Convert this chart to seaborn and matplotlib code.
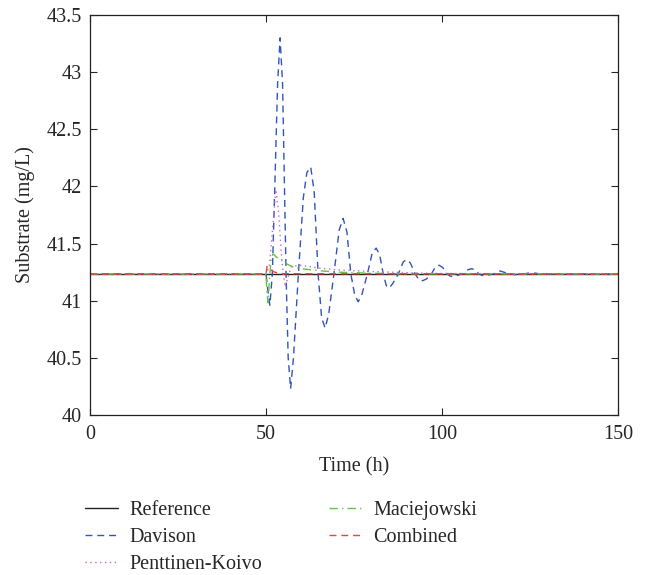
import matplotlib
matplotlib.use("Agg")
import matplotlib.pyplot as plt
import seaborn as sns
import pandas as pd

# ---- data ----
ref_t = [0, 150]
ref_v = [41.234, 41.234]

dav_t = [0, 50.0, 50.5, 51.1, 51.8, 52.5, 53.3, 54.0, 54.7, 55.7, 56.3, 57.0, 57.8,
         59.2, 60.6, 61.6, 62.7, 63.7, 64.8, 65.8, 66.8, 67.8, 69.3, 70.8, 71.9,
         73.0, 74.1, 75.2, 76.2, 77.3, 78.8, 80.2, 81.3, 82.3, 83.3, 84.2, 85.0,
         86.0, 87.6, 89.0, 90.0, 91.0, 92.4, 93.5, 94.5, 95.6, 97.0, 98.2, 99.2,
         100.2, 101.5, 102.3, 103.2, 104.2, 105.8, 107.3, 108.4, 109.4, 110.5,
         111.3, 112.2, 113.2, 114.6, 116.5, 118.5, 120.5, 123.0, 125.5, 128.0, 150]
dav_v = [41.234, 41.234, 41.10, 40.96, 41.234, 42.0, 42.9, 43.30, 42.9, 41.234, 40.5,
         40.23, 40.5, 41.234, 41.9, 42.12, 42.17, 41.95, 41.234, 40.85, 40.76, 40.88,
         41.234, 41.62, 41.72, 41.6, 41.234, 41.05, 40.99, 41.06, 41.234, 41.42,
         41.46, 41.40, 41.234, 41.13, 41.11, 41.15, 41.234, 41.34, 41.36, 41.33,
         41.234, 41.18, 41.175, 41.19, 41.234, 41.30, 41.31, 41.29, 41.234, 41.215,
         41.21, 41.22, 41.234, 41.27, 41.28, 41.27, 41.234, 41.222, 41.22, 41.225,
         41.234, 41.26, 41.24, 41.228, 41.234, 41.245, 41.234, 41.234]

pk_t = [0, 50.0, 50.3, 51.0, 51.8, 52.8, 53.5, 54.5, 55.4, 56.2, 57.2, 60, 65, 70,
        80, 90, 100, 150]
pk_v = [41.234, 41.234, 41.25, 41.32, 41.6, 41.97, 41.8, 41.35, 41.12, 41.2, 41.30,
        41.31, 41.285, 41.27, 41.255, 41.245, 41.238, 41.234]

mac_t = [0, 50.0, 50.3, 50.6, 51.0, 51.5, 52.0, 53, 54, 56, 58, 60, 63, 66, 70, 80,
         90, 150]
mac_v = [41.234, 41.234, 41.05, 40.98, 41.2, 41.38, 41.41, 41.38, 41.36, 41.32,
         41.29, 41.28, 41.27, 41.26, 41.25, 41.24, 41.235, 41.234]

comb_t = [0, 50.0, 50.3, 51.2, 52.0, 53.0, 55.0, 150]
comb_v = [41.234, 41.234, 41.30, 41.28, 41.255, 41.245, 41.236, 41.234]

labels = ["Reference", "Davison", "Penttinen-Koivo", "Maciejowski", "Combined"]
colors = ["#222222", "#3354b8", "#cc66cc", "#66c244", "#ee4040"]
styles = ["-", (0, (5, 3.5)), (0, (1, 2.5)), (0, (6, 3, 1, 3)), (0, (5, 3.5))]

x_ticks = [0, 50, 100, 150]
y_ticks = [40, 40.5, 41, 41.5, 42, 42.5, 43, 43.5]

# ---- plot ----
sns.set_style("ticks")
FS = 14.5
plt.rcParams["font.family"] = ["Liberation Serif", "DejaVu Serif"]
plt.rcParams["font.size"] = FS

fig = plt.figure(figsize=(6.48, 5.75), dpi=100)
ax = fig.add_axes([0.1389, 0.2783, 0.8148, 0.6957])

series = [(ref_t, ref_v), (dav_t, dav_v), (pk_t, pk_v), (mac_t, mac_v), (comb_t, comb_v)]
for (t, v), lab, col, ls in zip(series, labels, colors, styles):
    df = pd.DataFrame({"t": t, "v": v})
    sns.lineplot(data=df, x="t", y="v", ax=ax, color=col, linestyle=ls,
                 linewidth=1.0, label=lab, legend=False, sort=False)

ax.set_xlim(0, 150)
ax.set_ylim(40, 43.5)
ax.set_xticks(x_ticks)
ax.set_xticklabels([str(x) for x in x_ticks])
ax.set_yticks(y_ticks)
ax.set_yticklabels([f"{y:g}" for y in y_ticks])
ax.tick_params(direction="in", top=True, right=True, length=5, width=0.8,
               labelsize=FS)
ax.tick_params(axis="x", pad=7)
ax.tick_params(axis="y", pad=6)
for s in ax.spines.values():
    s.set_linewidth(0.9)
    s.set_color("#222222")
ax.set_xlabel("Time (h)", fontsize=FS, labelpad=10)
ax.set_ylabel("Substrate (mg/L)", fontsize=FS, labelpad=8)

handles, labs = ax.get_legend_handles_labels()
fig.legend(handles, labs, ncol=2, loc="upper left", bbox_to_anchor=(0.119, 0.1425),
           frameon=False, fontsize=FS, handlelength=1.65, handletextpad=0.55,
           columnspacing=3.3, labelspacing=0.38, borderaxespad=0)

fig.savefig("out.png", dpi=100)
